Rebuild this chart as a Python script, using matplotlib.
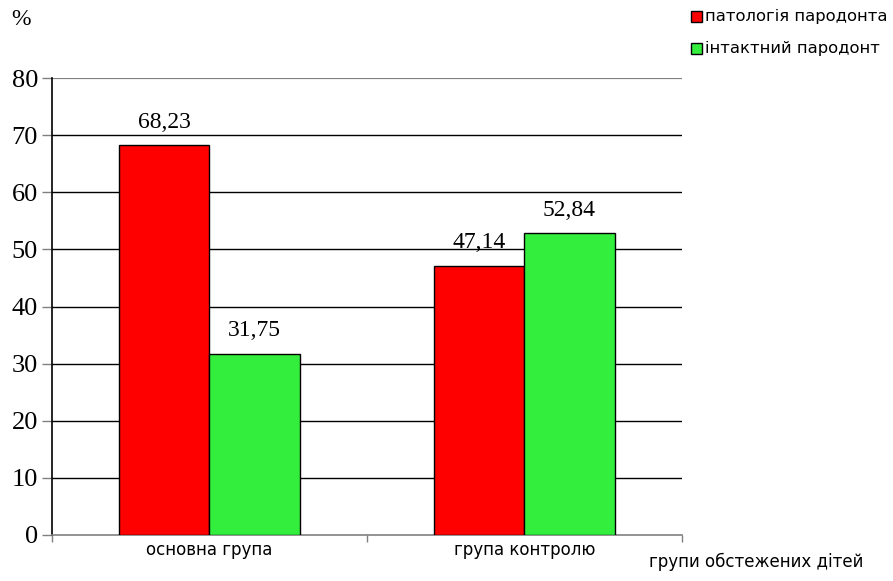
import matplotlib.pyplot as plt
import numpy as np

# Стан пародонту у групах обстежених дітей, %
groups = ['основна група', 'група контролю']
pathology = [68.23, 47.14]
intact = [31.75, 52.84]
series_names = ['патологія пародонта', 'інтактний пародонт']
yticks = [0, 10, 20, 30, 40, 50, 60, 70, 80]

RED = '#ff0000'
GREEN = '#33ee3c'
SERIF = 'Liberation Serif'
SANS = 'DejaVu Sans'

fig = plt.figure(figsize=(8.93, 5.81), dpi=100)
ax = fig.add_axes([0.0582, 0.0792, 0.7055, 0.7865])

x = np.arange(len(groups))
w = 0.286
b1 = ax.bar(x - w / 2, pathology, w, color=RED, edgecolor='black', linewidth=1, zorder=3)
b2 = ax.bar(x + w / 2, intact, w, color=GREEN, edgecolor='black', linewidth=1, zorder=3)

for bars, vals in ((b1, pathology), (b2, intact)):
    for rect, v in zip(bars, vals):
        ax.text(rect.get_x() + rect.get_width() / 2, v + 2.2,
                f'{v:.2f}'.replace('.', ','), ha='center', va='bottom',
                fontsize=17, family=SERIF)

ax.set_xlim(-0.5, len(groups) - 0.5)
ax.set_ylim(0, 80)

# horizontal gridlines, the top one slightly lighter
for yv in yticks[1:-1]:
    ax.axhline(yv, color='black', linewidth=1, zorder=1)
ax.axhline(80, color='#808080', linewidth=1.6, zorder=1)

for s in ('top', 'right'):
    ax.spines[s].set_visible(False)
ax.spines['left'].set_color('black')
ax.spines['left'].set_linewidth(1.2)
ax.spines['bottom'].set_color('#808080')
ax.spines['bottom'].set_linewidth(1.2)

ax.set_yticks(yticks)
ax.set_yticklabels([str(t) for t in yticks], family=SERIF, fontsize=19)
ax.tick_params(axis='y', direction='out', length=7, width=1, color='#808080', pad=3)

# category ticks sit on the boundaries between groups
ax.set_xticks(np.arange(-0.5, len(groups)), minor=False)
ax.set_xticklabels([])
ax.tick_params(axis='x', direction='out', length=5, width=1, color='#808080')
for xi, name in zip(x, groups):
    ax.text(xi, -1.0, name, ha='center', va='top', fontsize=12, family=SANS)

fig.text(0.0235, 0.967, '%', ha='center', va='center', fontsize=17, family=SERIF)
fig.text(0.8465, 0.018, 'групи обстежених дітей', ha='center', va='bottom',
         fontsize=12, family=SANS)

# legend in the top right corner
for i, (name, col) in enumerate(zip(series_names, (RED, GREEN))):
    yy = 0.972 - i * 0.056
    fig.patches.append(plt.Rectangle((0.7735, yy - 0.0095), 0.0125, 0.019,
                                     transform=fig.transFigure, facecolor=col,
                                     edgecolor='black', linewidth=1))
    fig.text(0.789, yy, name, ha='left', va='center', fontsize=11.8, family=SANS)

fig.savefig('out.png', dpi=100)
